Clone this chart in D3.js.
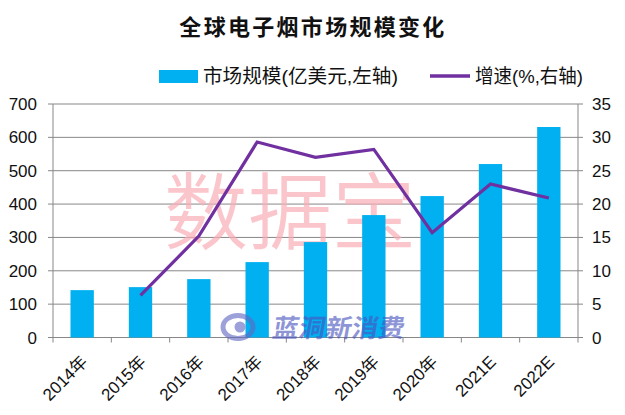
<!DOCTYPE html>
<html><head><meta charset="utf-8">
<script src="https://cdn.jsdelivr.net/npm/d3@7"></script>
<style>body{margin:0;background:#fff}</style>
</head><body><svg id="c" width="625" height="415"></svg>
<script>
const categories = ["2014年","2015年","2016年","2017年","2018年","2019年","2020年","2021E","2022E"];
const marketSize = [142, 151, 175, 226, 286, 367, 424, 520, 631];
const growth = [null, 6.3, 15.2, 29.3, 27.0, 28.2, 15.7, 23.0, 20.9];
const leftTicks = [0,100,200,300,400,500,600,700];
const rightTicks = [0,5,10,15,20,25,30,35];
const title = "全球电子烟市场规模变化";
const legendBar = "市场规模(亿美元,左轴)";
const legendLine = "增速(%,右轴)";

const svg = d3.select("#c");
const L = 53, R = 578, T = 104, B = 337.5;
const x = d3.scaleBand().domain(categories).range([L, R]).paddingInner(0.6).paddingOuter(0.3);
const xc = d3.scaleBand().domain(categories).range([L, R]);
const yL = d3.scaleLinear().domain([0,700]).range([B, T]);
const yR = d3.scaleLinear().domain([0,35]).range([B, T]);
const grid = "#878787";
const font = "'Liberation Sans', 'Noto Sans CJK SC', sans-serif";

svg.append("text").attr("x", 313).attr("y", 35).attr("text-anchor","middle")
  .attr("font-family","'Noto Sans CJK SC'").attr("font-weight","bold").attr("font-size",22)
  .attr("letter-spacing",2.3).attr("fill","#111").text(title);

// gridlines
svg.append("g").selectAll("line").data(leftTicks).join("line")
  .attr("x1", L-5).attr("x2", R).attr("y1", d=>yL(d)).attr("y2", d=>yL(d))
  .attr("stroke", grid).attr("stroke-width",1);
// right ticks
svg.append("g").selectAll("line").data(rightTicks).join("line")
  .attr("x1", R).attr("x2", R+5).attr("y1", d=>yR(d)).attr("y2", d=>yR(d))
  .attr("stroke", grid);
// axes lines
svg.append("line").attr("x1",L).attr("x2",L).attr("y1",T).attr("y2",B).attr("stroke",grid);
svg.append("line").attr("x1",R).attr("x2",R).attr("y1",T).attr("y2",B).attr("stroke",grid);
// bottom ticks
svg.append("g").selectAll("line").data(d3.range(categories.length+1)).join("line")
  .attr("x1", i=>L + i*xc.step()).attr("x2", i=>L + i*xc.step())
  .attr("y1", B).attr("y2", B+5).attr("stroke", grid);

// watermark 数据宝
svg.append("text").attr("x", 290).attr("y", 243).attr("text-anchor","middle")
  .attr("font-family","'Noto Sans CJK SC'").attr("font-size",84).attr("font-weight",350)
  .attr("fill","#f8aeb7").attr("fill-opacity",0.7).text("数据宝");

// bars
svg.append("g").selectAll("rect").data(marketSize).join("rect")
  .attr("x",(d,i)=>x(categories[i])).attr("width",x.bandwidth())
  .attr("y",d=>yL(d)).attr("height",d=>B-yL(d)).attr("fill","#00b0f0");

// logo watermark
const lg = svg.append("g").attr("opacity",0.62);
lg.append("ellipse").attr("cx",238).attr("cy",327).attr("rx",15).attr("ry",11.5).attr("fill","none").attr("stroke","#6268c4").attr("stroke-width",5);
lg.append("circle").attr("cx",240).attr("cy",327).attr("r",5.5).attr("fill","#6268c4");
lg.append("text").attr("x",272).attr("y",337).attr("font-family","'Noto Sans CJK SC'").attr("font-weight","bold")
  .attr("font-size",25).attr("fill","#4a55c0").attr("textLength",132).attr("lengthAdjust","spacingAndGlyphs")
  .attr("transform","matrix(1,0,-0.18,1,60,0)")
  .text("蓝洞新消费");

// line
const line = d3.line().defined(d=>d!=null).x((d,i)=>xc(categories[i])+xc.bandwidth()/2).y(d=>yR(d));
svg.append("path").datum(growth).attr("d", line).attr("fill","none")
  .attr("stroke","#7030a0").attr("stroke-width",3.2).attr("stroke-linejoin","miter");

// left labels
svg.append("g").selectAll("text").data(leftTicks).join("text")
  .attr("x", 37).attr("y", d=>yL(d)+6).attr("text-anchor","end")
  .attr("font-family",font).attr("font-size",17).attr("fill","#111").text(d=>d);
svg.append("g").selectAll("text").data(rightTicks).join("text")
  .attr("x", 592).attr("y", d=>yR(d)+6).attr("text-anchor","start")
  .attr("font-family",font).attr("font-size",17).attr("fill","#111").text(d=>d);
// x labels
svg.append("g").selectAll("text").data(categories).join("text")
  .attr("transform", d=>`translate(${xc(d)+xc.bandwidth()/2-2},${B+17}) rotate(-45)`)
  .attr("text-anchor","end").attr("dy","0.7em")
  .attr("font-family",font).attr("font-size",17).attr("fill","#111").text(d=>d);

// legend
svg.append("rect").attr("x",159).attr("y",70).attr("width",39).attr("height",13).attr("fill","#00b0f0");
svg.append("text").attr("x",203).attr("y",83).attr("font-family",font).attr("font-size",19)
  .attr("textLength",195).attr("lengthAdjust","spacingAndGlyphs").attr("fill","#111").text(legendBar);
svg.append("line").attr("x1",430).attr("x2",470).attr("y1",76).attr("y2",76).attr("stroke","#7030a0").attr("stroke-width",3.5);
svg.append("text").attr("x",475).attr("y",83).attr("font-family",font).attr("font-size",19)
  .attr("textLength",108).attr("lengthAdjust","spacingAndGlyphs").attr("fill","#111").text(legendLine);
</script></body></html>
